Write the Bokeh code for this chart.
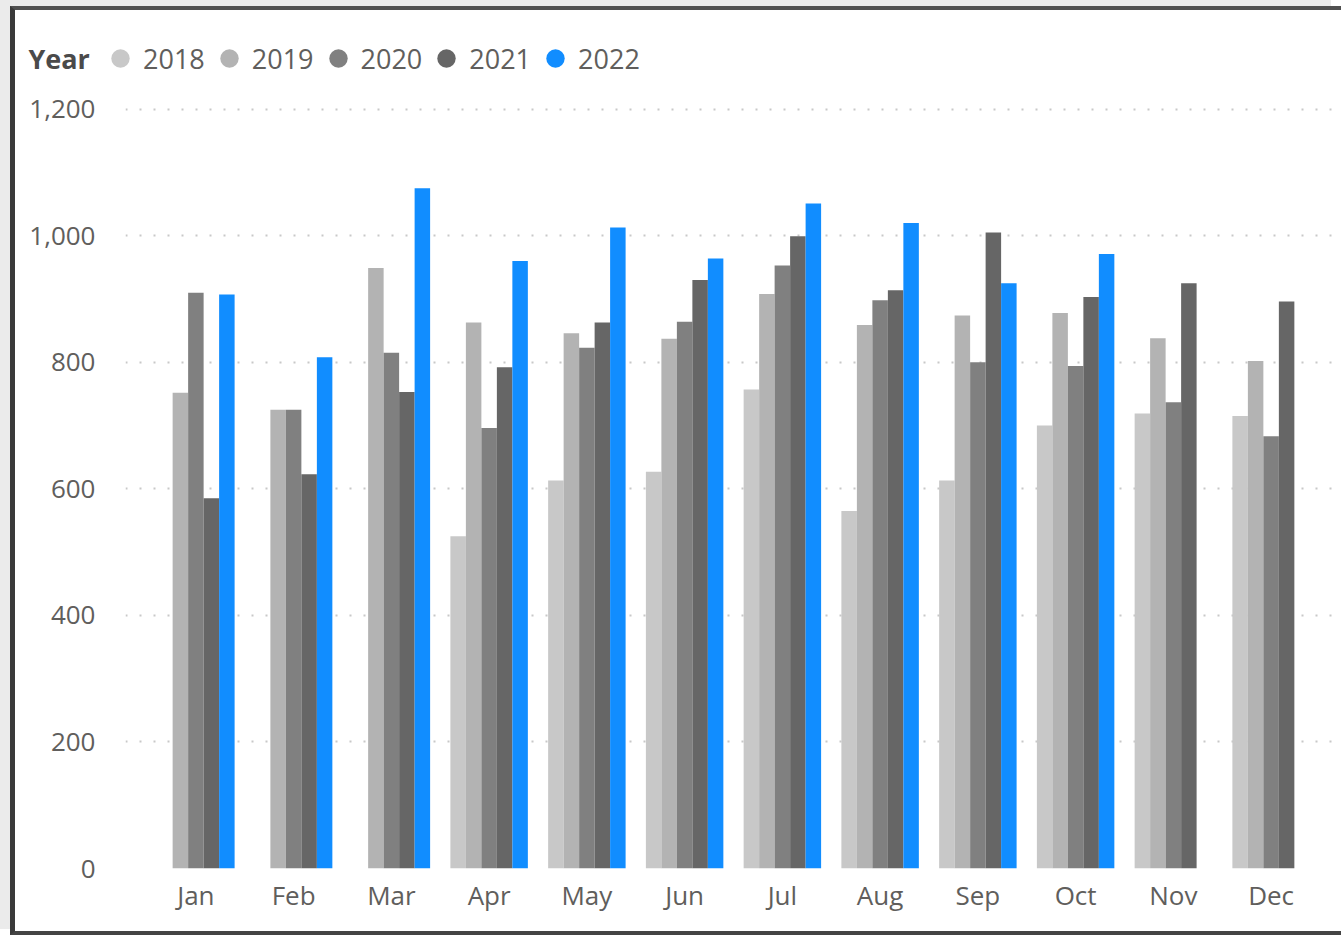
from bokeh.plotting import figure
from bokeh.layouts import column
from bokeh.models import (ColumnDataSource, FactorRange, Range1d, FixedTicker,
                          NumeralTickFormatter, Legend, LegendItem, Label)
from bokeh.transform import dodge
from bokeh.embed import file_html
from bokeh.resources import INLINE

# ---- data ----
months = ["Jan", "Feb", "Mar", "Apr", "May", "Jun",
          "Jul", "Aug", "Sep", "Oct", "Nov", "Dec"]
years = ["2018", "2019", "2020", "2021", "2022"]
sales_2018 = [None, None, None, 525, 613, 627, 757, 565, 613, 700, 719, 715]
sales_2019 = [752, 725, 949, 863, 846, 837, 908, 859, 874, 878, 838, 802]
sales_2020 = [910, 725, 815, 696, 823, 864, 953, 898, 800, 794, 737, 683]
sales_2021 = [585, 623, 753, 792, 863, 930, 999, 914, 1005, 903, 925, 896]
sales_2022 = [907, 808, 1075, 960, 1013, 964, 1051, 1020, 925, 971, None, None]
y_ticks = [0, 200, 400, 600, 800, 1000, 1200]
legend_title = "Year"

series = [sales_2018, sales_2019, sales_2020, sales_2021, sales_2022]
colors = ["#C8C8C8", "#B3B3B3", "#808080", "#666666", "#118DFF"]

FONT = "Open Sans"
TXT = "#605E5C"

# card placement on the page (card border drawn with CSS)
X0, Y0 = 15, 10          # content origin on the page
W = 1341 - X0
HEAD_H = 85 - Y0
MAIN_H = 931 - 85

x_range = FactorRange(*months, range_padding=0.22, range_padding_units="absolute")

# ---- main chart ----
p = figure(x_range=x_range, y_range=Range1d(0, 1220),
           width=W, height=MAIN_H,
           output_backend="svg", toolbar_location=None,
           min_border_left=125 - X0, min_border_right=0,
           min_border_top=11, min_border_bottom=931 - 868)
p.frame_align = False

# ---- header strip holding the legend (frame covers the whole strip) ----
head = figure(width=W, height=HEAD_H, x_range=x_range, y_range=Range1d(0, HEAD_H),
              output_backend="svg", toolbar_location=None,
              x_axis_location=None, y_axis_location=None,
              min_border=0, min_border_left=0, min_border_right=0,
              min_border_top=0, min_border_bottom=0)
head.frame_align = False
head.outline_line_color = None
head.xgrid.grid_line_color = None
head.ygrid.grid_line_color = None

bar_w = 0.1585
offsets = [-2 * bar_w, -bar_w, 0.0, bar_w, 2 * bar_w]

legend_items = []
for yr, vals, col, off in zip(years, series, colors, offsets):
    mm = [m for m, v in zip(months, vals) if v is not None]
    vv = [v for v in vals if v is not None]
    src = ColumnDataSource(dict(month=mm, value=vv))
    p.vbar(x=dodge("month", off, range=x_range), top="value", width=bar_w,
           source=src, fill_color=col, line_color=None)
    # legend swatch renderer (its points fall outside the strip's range, so only the legend shows it)
    r = head.scatter(x=dodge("month", off, range=x_range), y="value", source=src,
                     marker="circle", size=18, fill_color=col, line_color=None)
    legend_items.append(LegendItem(label=yr, renderers=[r]))

legend = Legend(items=legend_items, orientation="horizontal",
                location=(97 - X0, HEAD_H - (81 - Y0)), glyph_width=46, glyph_height=46,
                label_standoff=0, spacing=1, padding=0, margin=0,
                border_line_alpha=0, background_fill_alpha=0,
                label_text_font=FONT, label_text_font_size="27px",
                label_text_color=TXT, label_text_baseline="middle")
head.add_layout(legend)
head.add_layout(Label(x=28 - X0, y=HEAD_H - (58 - Y0), x_units="screen", y_units="screen",
                      text=legend_title, text_font=FONT, text_font_style="bold",
                      text_font_size="27px", text_color="#4A4A4A",
                      text_baseline="middle"))

p.outline_line_color = None
p.xgrid.grid_line_color = None
p.ygrid.ticker = FixedTicker(ticks=y_ticks)
p.ygrid.grid_line_color = "#C8C8C8"
p.ygrid.grid_line_dash = "2 12"
p.ygrid.grid_line_width = 2

p.yaxis.ticker = FixedTicker(ticks=y_ticks)
p.yaxis.formatter = NumeralTickFormatter(format="0,0")
for ax in (p.xaxis[0], p.yaxis[0]):
    ax.axis_line_color = None
    ax.major_tick_line_color = None
    ax.minor_tick_line_color = None
    ax.major_label_text_font = FONT
    ax.major_label_text_font_size = "26px"
    ax.major_label_text_color = TXT
p.yaxis.major_label_standoff = 24
p.xaxis.major_label_standoff = 2

layout = column(head, p, spacing=0, margin=(6, 0, 0, 10),
                styles={"border-left": "5px solid #3A3A3A",
                        "border-top": "4px solid #505050",
                        "border-bottom": "4px solid #444444",
                        "box-shadow": "-10px -6px 0 0 #EBEBEB"})
open("out.html", "w").write(file_html(layout, INLINE))
